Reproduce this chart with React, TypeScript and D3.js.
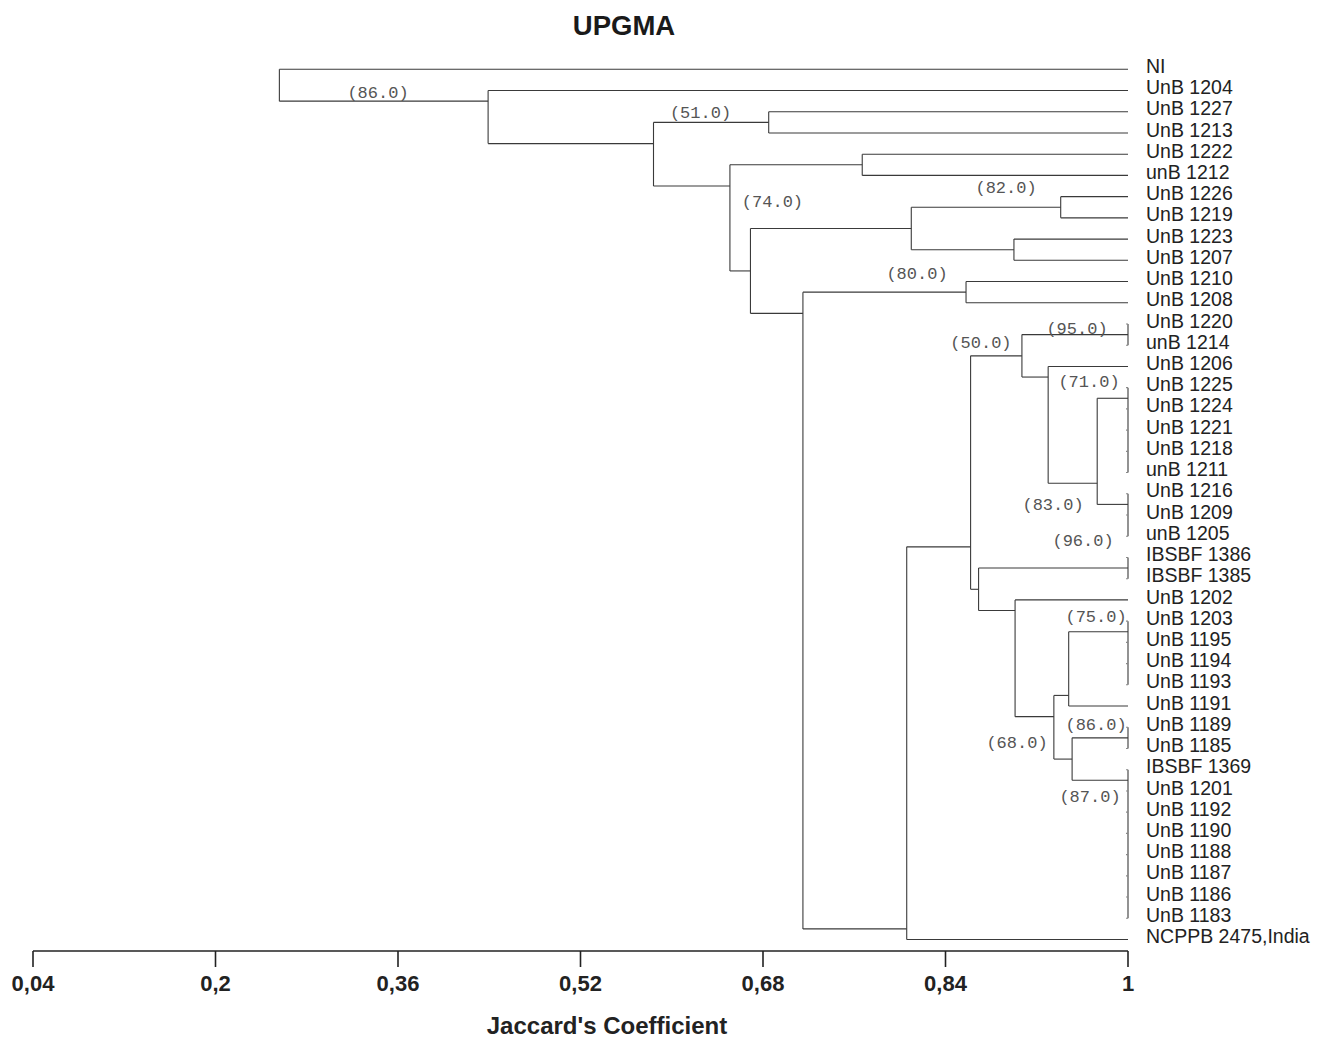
import React from 'react';
import * as d3 from 'd3';

// Leaves, top to bottom
const leafLabels = [
  'NI', 'UnB 1204', 'UnB 1227', 'UnB 1213', 'UnB 1222', 'unB 1212', 'UnB 1226', 'UnB 1219',
  'UnB 1223', 'UnB 1207', 'UnB 1210', 'UnB 1208', 'UnB 1220', 'unB 1214', 'UnB 1206', 'UnB 1225',
  'UnB 1224', 'UnB 1221', 'UnB 1218', 'unB 1211', 'UnB 1216', 'UnB 1209', 'unB 1205', 'IBSBF 1386',
  'IBSBF 1385', 'UnB 1202', 'UnB 1203', 'UnB 1195', 'UnB 1194', 'UnB 1193', 'UnB 1191', 'UnB 1189',
  'UnB 1185', 'IBSBF 1369', 'UnB 1201', 'UnB 1192', 'UnB 1190', 'UnB 1188', 'UnB 1187', 'UnB 1186',
  'UnB 1183', 'NCPPB 2475,India',
];

// Clusters (numbers = leaf index, strings = cluster id)
const clusterIds = ['root', 'A', 'B', 'C', 'D', 'E', 'F', 'G', 'I', 'J', 'H', 'K', 'L', 'M', 'N', 'P', 'Q', 'R', 'S', 'T', 'O', 'U', 'V', 'W', 'X', 'Z', 'Y', 'AA', 'AB'];
const clusterSimilarity = [0.256, 0.439, 0.584, 0.685, 0.651, 0.767, 0.669, 0.810, 0.941, 0.900, 0.715, 0.858, 0.806, 0.862, 0.907, 1, 0.930, 0.973, 1, 1, 0.869, 1, 0.901, 0.935, 0.948, 1, 0.951, 1, 1];
const clusterChildren: (number | string)[][] = [
  [0, 'A'], [1, 'B'], ['C', 'D'], [2, 3], ['E', 'F'], [4, 5], ['G', 'H'], ['I', 'J'], [6, 7], [8, 9],
  ['K', 'L'], [10, 11], ['M', 41], ['N', 'O'], ['P', 'Q'], [12, 13], [14, 'R'], ['S', 'T'],
  [15, 16, 17, 18, 19], [20, 21, 22], ['U', 'V'], [23, 24], [25, 'W'], ['X', 'Y'], ['Z', 30],
  [26, 27, 28, 29], ['AA', 'AB'], [31, 32], [33, 34, 35, 36, 37, 38, 39, 40],
];

// Bootstrap support labels (anchor in similarity units / row units)
const supportLabels = ['(86.0)', '(51.0)', '(74.0)', '(82.0)', '(80.0)', '(95.0)', '(50.0)', '(71.0)', '(83.0)', '(96.0)', '(75.0)', '(86.0)', '(68.0)', '(87.0)'];
const supportSim = [0.3425, 0.6252, 0.6883, 0.8931, 0.815, 0.9553, 0.8711, 0.9658, 0.9343, 0.9606, 0.972, 0.972, 0.9027, 0.9667];
const supportRow = [1.12, 2.06, 6.26, 5.6, 9.66, 12.25, 12.91, 14.75, 20.55, 22.25, 25.84, 30.93, 31.78, 34.32];

const tickValues = [0.04, 0.2, 0.36, 0.52, 0.68, 0.84, 1];
const tickLabels = ['0,04', '0,2', '0,36', '0,52', '0,68', '0,84', '1'];

const W = 1317;
const H = 1040;

export default function App() {
  const x = d3.scaleLinear().domain([0.04, 1]).range([33, 1128]);
  const y = d3.scaleLinear().domain([0, leafLabels.length - 1]).range([69.3, 939.5]);

  const idx: Record<string, number> = {};
  clusterIds.forEach((id, i) => (idx[id] = i));

  const lastLeaf = (c: number | string): number => {
    if (typeof c === 'number') return c;
    const ch = clusterChildren[idx[c]];
    return lastLeaf(ch[ch.length - 1]);
  };
  const rowOf = (c: number | string): number => {
    if (typeof c === 'number') return c;
    return lastLeaf(clusterChildren[idx[c]][0]) + 0.5;
  };
  const simOf = (c: number | string): number => (typeof c === 'number' ? 1 : clusterSimilarity[idx[c]]);

  const lines: { x1: number; y1: number; x2: number; y2: number; key: string; tick?: boolean }[] = [];
  clusterIds.forEach((id, i) => {
    const ch = clusterChildren[i];
    const xs = x(clusterSimilarity[i]);
    lines.push({ key: id + '-v', x1: xs, x2: xs, y1: y(rowOf(ch[0])), y2: y(rowOf(ch[ch.length - 1])) });
    ch.forEach((c, j) => {
      const xc = x(simOf(c));
      const yc = y(rowOf(c));
      if (xc - xs > 0.5) {
        lines.push({ key: id + '-h' + j, x1: xs, x2: xc, y1: yc, y2: yc });
      } else {
        lines.push({ key: id + '-t' + j, x1: xs - 2, x2: xs, y1: yc, y2: yc, tick: true });
      }
    });
  });

  const axisY = 951;

  return (
    <svg width={W} height={H} style={{ position: 'absolute', left: 0, top: 0, background: '#fff' }}>
      <rect x={0} y={0} width={W} height={H} fill="#fff" />
      <text x={624} y={35} textAnchor="middle" fontFamily="Liberation Sans, Arial, sans-serif" fontWeight="bold" fontSize={27.5} fill="#1a1a1a">
        UPGMA
      </text>
      <g stroke="#3a3a3a" strokeWidth={1.1} fill="none">
        {lines.map((l) => (
          <line key={l.key} x1={l.x1} y1={l.y1} x2={l.x2} y2={l.y2} stroke={l.tick ? '#888' : '#3a3a3a'} />
        ))}
      </g>
      <g fontFamily="Liberation Sans, Arial, sans-serif" fontSize={19.5} fill="#222">
        {leafLabels.map((lab, i) => (
          <text key={i} x={1146} y={y(i) + 3.6}>
            {lab}
          </text>
        ))}
      </g>
      <g fontFamily="Liberation Mono, Courier New, monospace" fontSize={17} fill="#555">
        {supportLabels.map((s, i) => (
          <text key={i} x={x(supportSim[i])} y={y(supportRow[i])} textAnchor="middle" dominantBaseline="central">
            {s}
          </text>
        ))}
      </g>
      <g>
        <line x1={x(0.04)} x2={x(1)} y1={axisY} y2={axisY} stroke="#222" strokeWidth={1.6} />
        {tickValues.map((t, i) => (
          <g key={i}>
            <line x1={x(t)} x2={x(t)} y1={axisY} y2={axisY + 16} stroke="#222" strokeWidth={1.6} />
            <text x={x(t)} y={991} textAnchor="middle" fontFamily="Liberation Sans, Arial, sans-serif" fontWeight="bold" fontSize={22} fill="#222">
              {tickLabels[i]}
            </text>
          </g>
        ))}
      </g>
      <text x={607} y={1034} textAnchor="middle" fontFamily="Liberation Sans, Arial, sans-serif" fontWeight="bold" fontSize={24} fill="#222">
        Jaccard's Coefficient
      </text>
    </svg>
  );
}
